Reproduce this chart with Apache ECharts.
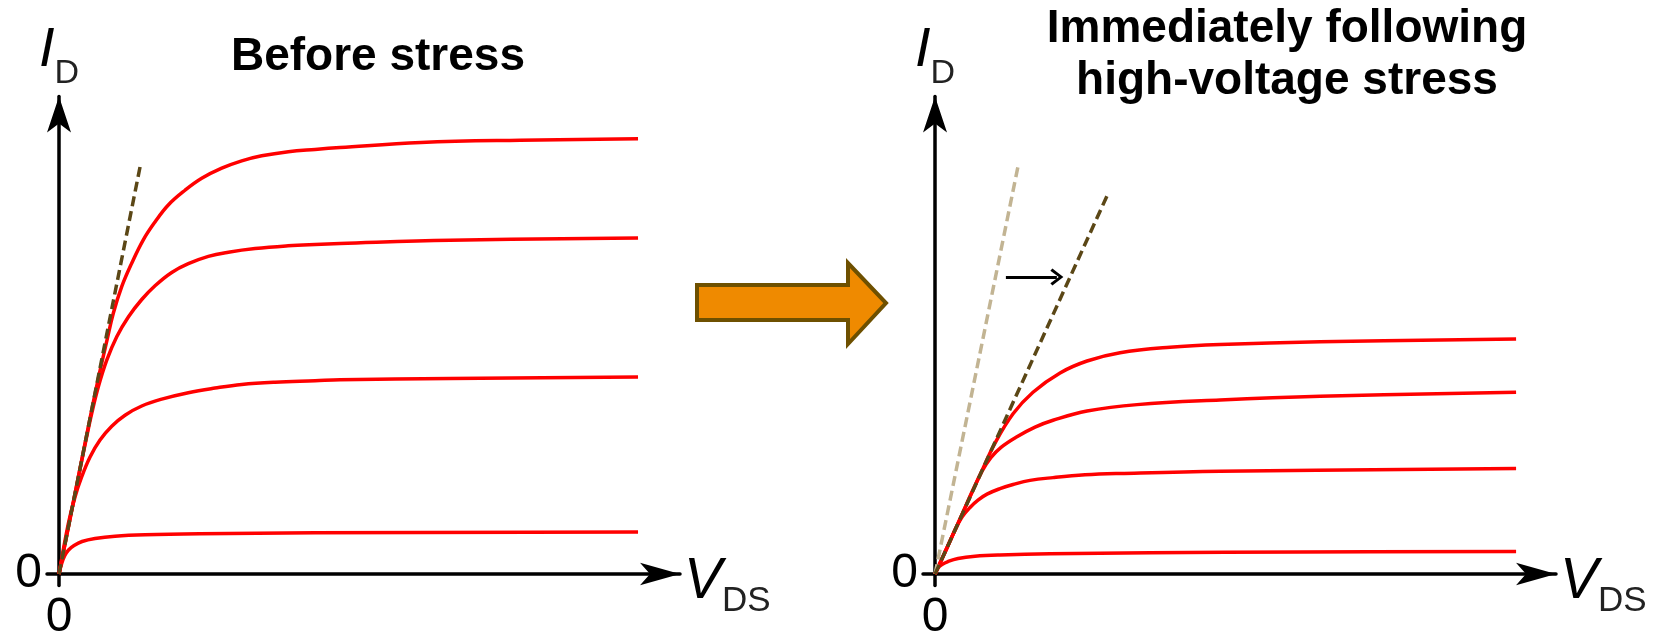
<!DOCTYPE html>
<html>
<head>
<meta charset="utf-8">
<script src="https://cdn.jsdelivr.net/npm/echarts@6/dist/echarts.min.js"></script>
<style>
html,body{margin:0;padding:0;background:#fff;}
#chart{width:1654px;height:635px;}
</style>
</head>
<body>
<div id="chart"></div>
<script>
// ---- Data (arbitrary units: x = V_DS, y = I_D) ----
const titleBefore = 'Before stress';
const titleAfter = 'Immediately following\nhigh-voltage stress';
const zeroTicks = [0];

// Before stress: four gate-voltage curves (highest first)
const before1 = [[0,0],[2.45,16.1],[5.09,33.5],[6.49,42.3],[7.99,51.0],[9.03,56.8],[10.43,62.6],[12.09,67.7],[14.02,72.8],[15.97,76.7],[18.18,80.4],[20.96,83.6],[23.74,86.2],[27.07,88.4],[30.39,90.0],[33.72,91.1],[38.15,92.0],[42.59,92.5],[46.75,92.9],[60.22,94.0],[76.69,94.5],[96.32,94.8]];
const before2 = [[0,0],[2.45,16.1],[4.49,29.2],[5.44,35.0],[6.54,40.8],[7.94,46.6],[9.6,51.7],[11.53,56.0],[13.76,59.8],[15.97,62.8],[18.75,65.7],[21.51,67.6],[24.84,69.2],[28.17,70.1],[32.61,70.9],[38.1,71.5],[42.59,71.8],[46.75,72.0],[65.05,72.7],[96.32,73.2]];
const before3 = [[0,0],[1.55,11.0],[2.66,16.8],[3.78,21.2],[5.16,25.5],[6.82,29.2],[8.77,32.2],[10.98,34.6],[13.76,36.6],[17.09,38.1],[21.51,39.5],[25.95,40.5],[30.39,41.3],[35.93,41.8],[42.59,42.1],[46.75,42.3],[65.05,42.6],[96.32,42.9]];
const before4 = [[0,0],[0.42,2.18],[0.92,3.92],[1.58,5.23],[2.5,6.21],[3.83,7.08],[5.99,7.73],[9.32,8.23],[14.31,8.54],[23.46,8.76],[42.59,8.97],[96.32,9.15]];
const beforeTangent = [[0,0],[13.48,88.7]];

// After high-voltage stress
const after1 = [[0,0],[4.16,12.0],[7.49,21.6],[9.98,28.5],[12.98,34.9],[16.3,39.6],[20.8,43.8],[25.29,46.4],[30.78,48.2],[39.1,49.4],[47.41,50.0],[64.05,50.6],[96.66,51.2]];
const after2 = [[0,0],[4.16,12.0],[6.16,17.9],[7.82,22.4],[9.32,25.4],[10.98,27.6],[13.48,29.8],[16.64,32.0],[19.63,33.5],[25.29,35.5],[33.61,36.9],[47.41,37.9],[64.05,38.7],[96.66,39.6]];
const after3 = [[0,0],[2.0,5.66],[3.33,9.58],[4.49,12.4],[5.82,14.5],[7.15,16.1],[8.65,17.4],[10.81,18.6],[12.98,19.5],[15.8,20.4],[19.63,21.0],[24.95,21.6],[30.78,21.9],[47.41,22.4],[96.66,23.0]];
const after4 = [[0,0],[0.5,1.31],[1.16,2.07],[2.16,2.72],[3.83,3.38],[6.65,3.86],[10.81,4.14],[19.13,4.4],[35.77,4.62],[60.72,4.79],[96.66,4.92]];
const afterOldTangent = [[0,0],[13.79,88.7]];
const afterNewTangent = [[0,0],[28.9,83.2]];
const shiftArrow = [[11.79,64.7],[20.27,64.7]];

// ---- Styles ----
const FONT = 'Liberation Sans';
const RED = '#ff0000';
const DARK_DASH = '#5b4716';
const LIGHT_DASH = '#c2b493';

function mkX(i){
  return {
    type:'value', gridIndex:i, min:-2, max:103.3,
    axisLine:{onZero:true, lineStyle:{color:'#000', width:3.5}, symbol:['none','arrow'], symbolSize:[17,40]},
    axisTick:{show:false}, splitLine:{show:false},
    axisLabel:{customValues:zeroTicks, margin:8, fontSize:48, color:'#000', fontFamily:FONT},
    name:'{v|V}{s|DS}', nameLocation:'end', nameGap:4,
    nameTextStyle:{
      padding:[16,0,0,0],
      rich:{
        v:{fontFamily:FONT, fontStyle:'italic', fontSize:57, lineHeight:57, color:'#000', verticalAlign:'top'},
        s:{fontFamily:FONT, fontSize:35, lineHeight:35, color:'#222', verticalAlign:'top', padding:[30,0,0,0]}
      }
    }
  };
}
function mkY(i){
  return {
    type:'value', gridIndex:i, min:-2.5, max:104,
    axisLine:{onZero:true, lineStyle:{color:'#000', width:3.5}, symbol:['none','arrow'], symbolSize:[18,36]},
    axisTick:{show:false}, splitLine:{show:false},
    axisLabel:{customValues:zeroTicks, margin:5, fontSize:48, color:'#000', fontFamily:FONT},
    name:'{i|I}{d|D}', nameLocation:'end', nameGap:18.6,
    nameTextStyle:{
      rich:{
        i:{fontFamily:FONT, fontStyle:'italic', fontSize:56, lineHeight:56, color:'#000', verticalAlign:'top'},
        d:{fontFamily:FONT, fontSize:34, lineHeight:34, color:'#222', verticalAlign:'top', padding:[35,0,0,0]}
      }
    }
  };
}
function curve(data, g){
  return {type:'line', xAxisIndex:g, yAxisIndex:g, data:data, showSymbol:false, silent:true,
    smooth:0.4, lineStyle:{color:RED, width:3.5}, z:2};
}
function dashed(data, g, color){
  return {type:'line', xAxisIndex:g, yAxisIndex:g, data:data, showSymbol:false, silent:true,
    lineStyle:{color:color, width:3.5, type:[10,5]}, z:3};
}

const chart = echarts.init(document.getElementById('chart'), null, {renderer:'canvas'});
chart.setOption({
  animation:false,
  backgroundColor:'#fff',
  title:[
    {text:titleBefore, left:378, top:34, textAlign:'center', padding:0,
     textStyle:{fontFamily:FONT, fontWeight:'bold', fontSize:46, lineHeight:46, color:'#000'}},
    {text:titleAfter, left:1287, top:3, textAlign:'center', padding:0,
     textStyle:{fontFamily:FONT, fontWeight:'bold', fontSize:46, lineHeight:52, color:'#000'}}
  ],
  grid:[
    {left:47, top:96.6, width:633, height:488.9, containLabel:false, outerBoundsMode:'none'},
    {left:923, top:96.6, width:633, height:488.9, containLabel:false, outerBoundsMode:'none'}
  ],
  xAxis:[mkX(0), mkX(1)],
  yAxis:[mkY(0), mkY(1)],
  series:[
    curve(before1,0), curve(before2,0), curve(before3,0), curve(before4,0),
    dashed(beforeTangent,0,DARK_DASH),
    curve(after1,1), curve(after2,1), curve(after3,1), curve(after4,1),
    dashed(afterOldTangent,1,LIGHT_DASH),
    Object.assign(dashed(afterNewTangent,1,DARK_DASH), {
      markLine:{
        silent:true, symbol:['none','path://M8.5,0 L17,11 L14.8,13 L8.5,4.6 L2.2,13 L0,11 Z'], symbolSize:[17,13],
        label:{show:false}, lineStyle:{color:'#000', width:3, type:'solid'},
        data:[[{coord:shiftArrow[0]},{coord:shiftArrow[1]}]]
      }
    })
  ],
  graphic:[
    {type:'polygon', silent:true,
     shape:{points:[[697,285],[848,285],[848,263],[886,303],[848,344],[848,320],[697,320]]},
     style:{fill:'#ef8a00', stroke:'#6e5000', lineWidth:4, lineJoin:'miter'}}
  ]
});
</script>
</body>
</html>
